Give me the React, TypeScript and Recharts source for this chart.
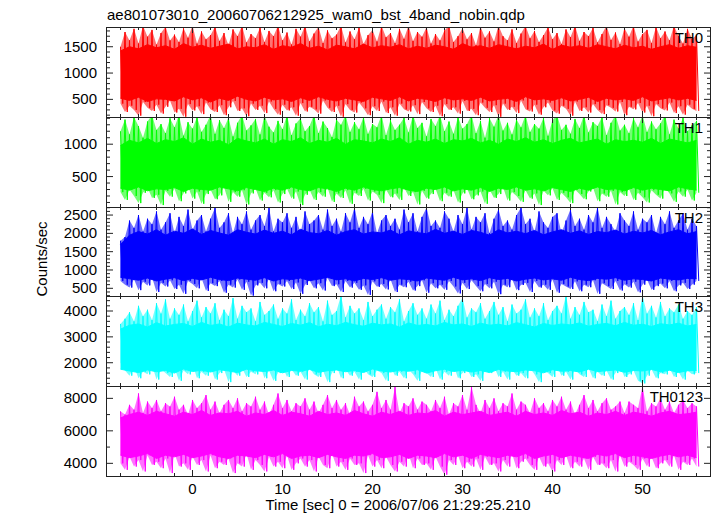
import React from "react";
import { ComposedChart, Area, Line, XAxis, YAxis } from "recharts";

// time bins (sec): first bin and bin width; spikes at 0.5 s, core envelope at 1 s
const TIME_START = -8;
const SPIKE_STEP = 0.5;
const CORE_STEP = 1;

// spike extremes per 0.5 s bin (max then min), counts/sec
const TH0_HI = [
  1500, 1780, 1620, 1840, 1560, 1900, 1690, 1820, 1540, 1760,
  1880, 1620, 1730, 1590, 1850, 1670, 1900, 1560, 1790, 1640,
  1720, 1880, 1610, 1760, 1530, 1830, 1700, 1900, 1580, 1740,
  1660, 1860, 1590, 1800, 1700, 1900, 1620, 1770, 1540, 1840,
  1690, 1900, 1600, 1750, 1880, 1570, 1810, 1660, 1730, 1900,
  1580, 1790, 1640, 1860, 1550, 1720, 1820, 1600, 1900, 1680,
  1760, 1570, 1840, 1650, 1900, 1610, 1780, 1690, 1870, 1560,
  1740, 1620, 1810, 1900, 1590, 1700, 1850, 1640, 1760, 1530,
  1880, 1670, 1790, 1600, 1900, 1700, 1620, 1830, 1570, 1750,
  1900, 1660, 1800, 1590, 1720, 1870, 1640, 1760, 1550, 1830,
  1680, 1900, 1610, 1780, 1700, 1860, 1580, 1740, 1900, 1630,
  1770, 1550, 1850, 1690, 1900, 1600, 1740, 1820, 1570, 1880,
  1660, 1790, 1620, 1900, 1700, 1560, 1840, 1650, 1720,
];
const TH0_LO = [
  420, 260, 380, 300, 190, 450, 340, 280, 400, 230,
  360, 480, 250, 320, 170, 410, 290, 370, 220, 440,
  310, 260, 390, 200, 350, 470, 280, 330, 180, 420,
  300, 380, 240, 460, 320, 210, 400, 290, 350, 190,
  430, 270, 360, 310, 230, 480, 340, 260, 380, 170,
  410, 300, 250, 440, 330, 200, 370, 280, 460, 240,
  350, 190, 420, 310, 270, 390, 220, 450, 330, 260,
  380, 180, 410, 300, 350, 230, 470, 280, 320, 200,
  440, 340, 260, 390, 170, 420, 300, 360, 240, 480,
  310, 270, 400, 210, 350, 440, 290, 230, 380, 320,
  190, 460, 280, 350, 250, 410, 300, 220, 390, 340,
  270, 450, 200, 360, 310, 430, 250, 380, 180, 410,
  330, 290, 440, 240, 370, 210, 400, 320, 280,
];
// solid core envelope per 1 s
const TH0_CORE_HI = [
  1420, 1500, 1460, 1540, 1480, 1520, 1450, 1560, 1490, 1530,
  1470, 1510, 1550, 1460, 1500, 1480, 1540, 1450, 1520, 1490,
  1560, 1470, 1510, 1440, 1530, 1500, 1460, 1550, 1480, 1520,
  1490, 1540, 1460, 1510, 1470, 1530, 1500, 1450, 1560, 1490,
  1520, 1470, 1540, 1500, 1460, 1510, 1480, 1550, 1450, 1530,
  1490, 1520, 1470, 1540, 1500, 1460, 1530, 1480, 1510, 1450,
  1500, 1540, 1470, 1520, 1490,
];
const TH0_CORE_LO = [
  520, 480, 540, 460, 510, 500, 470, 550, 490, 530,
  450, 520, 480, 560, 500, 470, 540, 490, 510, 460,
  530, 480, 550, 500, 470, 520, 490, 460, 540, 510,
  480, 550, 470, 520, 500, 460, 530, 490, 510, 480,
  540, 470, 500, 520, 460, 550, 490, 510, 480, 530,
  470, 500, 540, 460, 520, 490, 510, 480, 550, 470,
  500, 530, 490, 520, 480,
];

const TH1_HI = [
  1200, 1380, 1150, 1420, 1280, 1100, 1350, 1450, 1220, 1310,
  1170, 1400, 1260, 1450, 1130, 1340, 1240, 1420, 1190, 1300,
  1450, 1160, 1370, 1250, 1410, 1120, 1330, 1450, 1210, 1290,
  1390, 1150, 1440, 1270, 1180, 1360, 1230, 1450, 1140, 1320,
  1400, 1200, 1280, 1450, 1170, 1350, 1250, 1110, 1380, 1300,
  1450, 1190, 1340, 1230, 1420, 1160, 1310, 1260, 1450, 1140,
  1370, 1220, 1300, 1410, 1180, 1450, 1250, 1330, 1120, 1390,
  1280, 1450, 1200, 1350, 1160, 1420, 1240, 1310, 1450, 1170,
  1360, 1100, 1400, 1270, 1450, 1210, 1330, 1150, 1380, 1260,
  1450, 1190, 1310, 1240, 1410, 1130, 1370, 1450, 1220, 1300,
  1160, 1390, 1250, 1450, 1180, 1340, 1280, 1420, 1140, 1330,
  1450, 1210, 1300, 1170, 1400, 1260, 1450, 1190, 1350, 1230,
  1320, 1450, 1150, 1380, 1240, 1410, 1200, 1290, 1360,
];
const TH1_LO = [
  260, 140, 300, 200, 90, 250, 330, 170, 220, 60,
  280, 190, 310, 120, 240, 350, 160, 270, 80, 230,
  300, 150, 210, 340, 110, 260, 190, 290, 70, 240,
  320, 130, 250, 180, 290, 100, 230, 310, 160, 270,
  60, 220, 300, 140, 260, 190, 330, 110, 240, 170,
  290, 80, 250, 200, 310, 130, 270, 220, 90, 300,
  180, 240, 140, 330, 200, 260, 70, 280, 160, 230,
  310, 120, 250, 190, 290, 100, 240, 320, 150, 210,
  270, 80, 300, 170, 230, 340, 130, 260, 200, 110,
  290, 160, 240, 60, 280, 210, 320, 140, 250, 180,
  90, 300, 230, 150, 270, 330, 120, 240, 190, 280,
  70, 260, 200, 310, 140, 250, 180, 100, 290, 220,
  160, 330, 240, 110, 270, 190, 300, 130, 250,
];
const TH1_CORE_HI = [
  980, 1060, 1020, 1090, 1010, 1070, 1040, 1100, 1000, 1080,
  1030, 1060, 990, 1090, 1050, 1020, 1080, 1000, 1070, 1040,
  1100, 1010, 1060, 1030, 1090, 1000, 1070, 1050, 1020, 1080,
  1040, 1100, 1000, 1060, 1030, 1080, 1010, 1070, 1050, 1090,
  1020, 1060, 1000, 1080, 1040, 1100, 1030, 1070, 1010, 1060,
  1090, 1020, 1050, 1080, 1000, 1070, 1040, 1060, 1030, 1090,
  1010, 1080, 1050, 1020, 1060,
];
const TH1_CORE_LO = [
  320, 290, 340, 280, 310, 300, 330, 270, 320, 300,
  290, 340, 310, 280, 330, 300, 270, 320, 290, 340,
  300, 280, 330, 310, 270, 320, 290, 340, 300, 280,
  310, 330, 290, 270, 320, 300, 340, 280, 310, 290,
  330, 270, 320, 300, 340, 290, 310, 280, 330, 300,
  270, 320, 290, 340, 300, 310, 280, 330, 290, 320,
  300, 280, 340, 310, 290,
];

const TH2_HI = [
  1800, 1900, 2350, 2150, 2500, 2050, 2400, 2250, 2600, 2100,
  2300, 2550, 2000, 2450, 2200, 2650, 2100, 2350, 2500, 2050,
  2400, 2700, 2150, 2300, 2550, 2000, 2450, 2250, 2600, 2100,
  2350, 2500, 2200, 2700, 2050, 2400, 2300, 2550, 2150, 2450,
  2000, 2600, 2250, 2350, 2500, 2100, 2650, 2200, 2400, 2050,
  2550, 2300, 2700, 2150, 2450, 2250, 2600, 2000, 2350, 2500,
  2200, 2400, 2100, 2650, 2300, 2550, 2050, 2450, 2700, 2200,
  2350, 2150, 2600, 2400, 2050, 2500, 2250, 2700, 2100, 2450,
  2300, 2550, 2000, 2400, 2650, 2200, 2350, 2100, 2500, 2700,
  2250, 2400, 2050, 2600, 2300, 2150, 2450, 2550, 2000, 2350,
  2650, 2200, 2400, 2100, 2500, 2300, 2700, 2150, 2450, 2250,
  2050, 2550, 2350, 2200, 2600, 2100, 2400, 2300, 2500, 2000,
  2450, 2250, 2600, 2150, 2350, 2550, 2100, 2400, 2200,
];
const TH2_LO = [
  700, 600, 520, 750, 450, 680, 580, 800, 400, 650,
  550, 720, 480, 600, 350, 700, 620, 500, 780, 430,
  640, 560, 700, 380, 600, 520, 740, 460, 680, 300,
  580, 650, 500, 760, 420, 620, 550, 700, 480, 660,
  350, 590, 720, 500, 640, 440, 780, 560, 610, 400,
  700, 520, 650, 460, 580, 320, 690, 540, 620, 470,
  750, 400, 600, 530, 680, 440, 560, 720, 380, 640,
  500, 600, 460, 700, 550, 360, 650, 480, 720, 560,
  420, 620, 500, 680, 340, 600, 530, 760, 450, 590,
  650, 400, 700, 520, 600, 460, 740, 380, 620, 550,
  480, 690, 420, 600, 530, 720, 350, 640, 560, 480,
  700, 440, 610, 520, 680, 390, 600, 740, 460, 560,
  630, 500, 700, 420, 580, 650, 480, 600, 700,
];
const TH2_CORE_HI = [
  1700, 1950, 2050, 1980, 2100, 1950, 2060, 2000, 2120, 1970,
  2080, 2010, 1950, 2100, 2030, 1980, 2090, 2000, 2060, 1960,
  2110, 2020, 1990, 2080, 1950, 2050, 2100, 1980, 2040, 2010,
  2090, 1960, 2070, 2020, 1990, 2110, 2000, 2060, 1970, 2080,
  2030, 1950, 2100, 2010, 2060, 1990, 2080, 1960, 2040, 2100,
  2000, 2070, 1970, 2050, 2020, 2090, 1980, 2060, 2010, 2080,
  1960, 2040, 2100, 1990, 2050,
];
const TH2_CORE_LO = [
  800, 760, 720, 780, 700, 750, 790, 710, 770, 730,
  800, 740, 710, 780, 750, 720, 790, 700, 760, 740,
  780, 710, 750, 800, 730, 760, 700, 770, 740, 790,
  720, 760, 740, 700, 780, 750, 720, 800, 730, 760,
  710, 790, 740, 770, 700, 750, 780, 730, 760, 720,
  800, 740, 710, 770, 750, 790, 720, 760, 740, 700,
  780, 750, 730, 770, 760,
];

const TH3_HI = [
  3500, 3700, 3950, 3600, 4200, 3800, 4050, 3650, 4300, 3900,
  4450, 3700, 4100, 3850, 4250, 3600, 4000, 4400, 3750, 4150,
  3900, 4300, 3650, 4050, 3800, 4500, 3700, 4200, 3950, 4100,
  3600, 4350, 3850, 4000, 4250, 3700, 4100, 3900, 4450, 3650,
  4050, 3800, 4300, 3950, 4150, 3600, 4400, 3850, 4000, 4600,
  3750, 4200, 3900, 4100, 3650, 4350, 3800, 4050, 4250, 3700,
  4150, 3950, 4450, 3600, 4000, 4300, 3850, 4100, 3700, 4250,
  3900, 4400, 3650, 4050, 3800, 4200, 4500, 3750, 4100, 3950,
  4300, 3700, 4000, 4350, 3850, 4150, 3600, 4250, 3900, 4050,
  4450, 3750, 4100, 3800, 4300, 3650, 4000, 4200, 3900, 4600,
  3700, 4150, 3850, 4350, 3950, 4050, 3600, 4250, 3800, 4400,
  3700, 4000, 4150, 3850, 4300, 3650, 4600, 3900, 4200, 3750,
  4350, 3800, 4100, 3950, 4250, 3700, 4000, 3850, 4150,
];
const TH3_LO = [
  2000, 1700, 1500, 1850, 1400, 1650, 1550, 1900, 1350, 1750,
  1600, 1450, 1800, 1300, 1700, 1550, 1950, 1400, 1650, 1500,
  1850, 1350, 1600, 1750, 1250, 1700, 1500, 1800, 1450, 1650,
  1550, 1900, 1400, 1700, 1300, 1600, 1850, 1450, 1750, 1500,
  1650, 1350, 1800, 1550, 1450, 1700, 1250, 1600, 1900, 1400,
  1750, 1500, 1650, 1350, 1800, 1550, 1450, 1700, 1600, 1300,
  1850, 1500, 1650, 1400, 1750, 1550, 1300, 1700, 1600, 1450,
  1800, 1350, 1650, 1500, 1900, 1400, 1600, 1750, 1450, 1550,
  1300, 1700, 1600, 1850, 1450, 1650, 1350, 1750, 1500, 1600,
  1400, 1800, 1550, 1250, 1700, 1600, 1450, 1850, 1500, 1650,
  1350, 1750, 1550, 1450, 1800, 1400, 1650, 1500, 1700, 1350,
  1600, 1850, 1450, 1550, 1700, 1300, 1200, 1500, 1750, 1400,
  1600, 1550, 1800, 1450, 1650, 1350, 1700, 1550, 1600,
];
const TH3_CORE_HI = [
  3300, 3450, 3500, 3380, 3550, 3420, 3480, 3520, 3400, 3560,
  3440, 3500, 3380, 3530, 3460, 3420, 3560, 3480, 3400, 3520,
  3450, 3550, 3390, 3490, 3430, 3560, 3470, 3410, 3530, 3460,
  3500, 3380, 3540, 3440, 3480, 3420, 3560, 3460, 3500, 3400,
  3530, 3450, 3490, 3420, 3550, 3470, 3380, 3520, 3440, 3500,
  3460, 3540, 3410, 3480, 3520, 3430, 3560, 3450, 3490, 3400,
  3510, 3460, 3530, 3420, 3480,
];
const TH3_CORE_LO = [
  1750, 1680, 1620, 1720, 1650, 1700, 1600, 1760, 1660, 1710,
  1640, 1730, 1680, 1620, 1750, 1690, 1660, 1720, 1610, 1700,
  1670, 1740, 1630, 1690, 1720, 1650, 1700, 1620, 1760, 1680,
  1640, 1710, 1670, 1730, 1600, 1690, 1750, 1660, 1710, 1640,
  1700, 1620, 1740, 1680, 1650, 1720, 1690, 1610, 1730, 1670,
  1700, 1640, 1750, 1660, 1690, 1720, 1630, 1700, 1680, 1740,
  1650, 1710, 1620, 1690, 1700,
];

const TH0123_HI = [
  7200, 7000, 7600, 7300, 8300, 7100, 7800, 7400, 7900, 7200,
  7700, 7500, 8100, 7300, 7600, 7000, 7900, 7400, 7700, 8200,
  7300, 7800, 7100, 7600, 7900, 7400, 8000, 7200, 7700, 7500,
  8100, 7300, 7800, 7000, 7600, 8300, 7400, 7900, 7200, 7700,
  7500, 8000, 7300, 7800, 7100, 7600, 8200, 7400, 7900, 7300,
  7700, 7000, 8100, 7500, 7800, 7200, 7600, 8400, 7400, 7900,
  7300, 8700, 7100, 7700, 7500, 8000, 7300, 7800, 7600, 7200,
  7900, 7400, 8100, 7000, 7700, 7500, 8200, 7300, 8700, 7600,
  7100, 7900, 7400, 8000, 7200, 7700, 7500, 8300, 7300, 7800,
  7600, 7100, 8000, 7400, 7700, 7200, 7900, 7500, 8100, 7300,
  7800, 7000, 7600, 8200, 7400, 7900, 7200, 7700, 8000, 7300,
  7500, 7800, 7100, 7800, 7600, 7400, 8750, 7200, 7700, 7500,
  8000, 7300, 7800, 7100, 7600, 7900, 7400, 7700, 7500,
];
const TH0123_LO = [
  4000, 3600, 4400, 3800, 4200, 3500, 4500, 3900, 4100, 3700,
  4300, 3400, 4600, 3800, 4000, 3600, 4400, 3900, 4200, 3500,
  4500, 3700, 4100, 3900, 4300, 3400, 4000, 3800, 4600, 3600,
  4200, 3900, 3500, 4400, 3800, 4100, 3700, 4500, 3600, 4000,
  4300, 3800, 4200, 3500, 4400, 3900, 3700, 4600, 3800, 4100,
  3600, 4300, 3900, 4000, 3400, 4500, 3800, 4200, 3700, 4400,
  3900, 3500, 4100, 3800, 4600, 3700, 4300, 3900, 4000, 3600,
  4400, 3800, 3300, 4200, 3900, 4500, 3700, 4100, 3800, 4300,
  3600, 4400, 3900, 4000, 3500, 4200, 3800, 4600, 3700, 4100,
  4300, 3900, 3600, 4400, 3800, 4000, 3500, 4200, 3900, 4500,
  3700, 4100, 3800, 4300, 3600, 4400, 3900, 4000, 3700, 4200,
  3500, 4500, 3800, 4100, 3900, 3600, 4300, 3800, 4400, 3700,
  4000, 4200, 3800, 4500, 3600, 4100, 3900, 4300, 3800,
];
const TH0123_CORE_HI = [
  6800, 7000, 7150, 6950, 7200, 7050, 6900, 7150, 7000, 7250,
  6950, 7100, 7050, 7200, 6900, 7100, 7000, 7250, 6950, 7150,
  7050, 6900, 7200, 7000, 7100, 6950, 7250, 7050, 6900, 7150,
  7000, 7200, 6950, 7100, 7050, 7250, 6900, 7150, 7000, 7100,
  7200, 6950, 7050, 7150, 6900, 7200, 7000, 7100, 6950, 7250,
  7050, 7150, 6900, 7100, 7000, 7200, 6950, 7150, 7050, 6900,
  7100, 7200, 7000, 7050, 7150,
];
const TH0123_CORE_LO = [
  4500, 4350, 4450, 4600, 4300, 4500, 4400, 4550, 4350, 4450,
  4600, 4400, 4300, 4500, 4450, 4350, 4550, 4400, 4600, 4300,
  4450, 4500, 4350, 4550, 4400, 4300, 4500, 4450, 4600, 4350,
  4400, 4550, 4300, 4500, 4450, 4350, 4600, 4400, 4500, 4300,
  4550, 4450, 4350, 4500, 4400, 4600, 4300, 4450, 4550, 4350,
  4500, 4400, 4300, 4550, 4450, 4600, 4350, 4500, 4400, 4300,
  4450, 4550, 4400, 4500, 4350,
];

const FONT = "'Liberation Sans', Arial, Helvetica, sans-serif";
const FRAME = "#222";
const X_DOMAIN: [number, number] = [-9.5, 57.5];
const PLOT_LEFT = 107;
const PLOT_RIGHT = 710;
const PLOT_W = PLOT_RIGHT - PLOT_LEFT;

function stepTicks(lo: number, hi: number, step: number) {
  const out: number[] = [];
  for (let v = Math.ceil(lo / step) * step; v <= hi; v += step) out.push(v);
  return out;
}

const X_TICKS = stepTicks(-9, 57, 2);

const PANELS = [
  { label: "TH0", color: "#ff0000", hi: TH0_HI, lo: TH0_LO, coreHi: TH0_CORE_HI, coreLo: TH0_CORE_LO, domain: [165, 1875], major: 500, minor: 100, top: 27, h: 90 },
  { label: "TH1", color: "#00ff00", hi: TH1_HI, lo: TH1_LO, coreHi: TH1_CORE_HI, coreLo: TH1_CORE_LO, domain: [30, 1420], major: 500, minor: 100, top: 117, h: 90 },
  { label: "TH2", color: "#0000ff", hi: TH2_HI, lo: TH2_LO, coreHi: TH2_CORE_HI, coreLo: TH2_CORE_LO, domain: [290, 2720], major: 500, minor: 100, top: 207, h: 89 },
  { label: "TH3", color: "#00ffff", hi: TH3_HI, lo: TH3_LO, coreHi: TH3_CORE_HI, coreLo: TH3_CORE_LO, domain: [1100, 4580], major: 1000, minor: 200, top: 296, h: 90 },
  { label: "TH0123", color: "#ff00ff", hi: TH0123_HI, lo: TH0123_LO, coreHi: TH0123_CORE_HI, coreLo: TH0123_CORE_LO, domain: [3220, 8760], major: 2000, minor: 1000, top: 386, h: 90 },
];

type PanelCfg = (typeof PANELS)[number];

// rows: max at the bin time, min half a bin later, core envelope every second
function buildRows(p: PanelCfg) {
  const rows: any[] = [];
  p.hi.forEach((h, i) => {
    const t = TIME_START + i * SPIKE_STEP;
    const k = (t - TIME_START) / CORE_STEP;
    const row: any = { t, spike: h, fringe: [p.lo[i], h] };
    if (Number.isInteger(k) && k < p.coreHi.length) row.core = [p.coreLo[k], p.coreHi[k]];
    rows.push(row);
    rows.push({ t: t + SPIKE_STEP / 2, spike: p.lo[i] });
  });
  return rows;
}

function XTick(props: any) {
  const { x, y, payload, plotH, showLabel } = props;
  const v = payload.value;
  const major = v % 10 === 0;
  const len = major ? 6 : 3;
  return (
    <g>
      <line x1={x} x2={x} y1={y} y2={y - len} stroke={FRAME} strokeWidth={1} />
      <line x1={x} x2={x} y1={y - plotH} y2={y - plotH + len} stroke={FRAME} strokeWidth={1} />
      {showLabel && major && (
        <text x={x} y={y + 18} textAnchor="middle" fontSize={15} fontFamily={FONT} fill="#000">
          {v}
        </text>
      )}
    </g>
  );
}

function YTick(props: any) {
  const { x, y, payload, major } = props;
  const v = payload.value;
  const isMajor = v % major === 0;
  const len = isMajor ? 6 : 3;
  return (
    <g>
      <line x1={x} x2={x + len} y1={y} y2={y} stroke={FRAME} strokeWidth={1} />
      <line x1={x + PLOT_W} x2={x + PLOT_W - len} y1={y} y2={y} stroke={FRAME} strokeWidth={1} />
      {isMajor && (
        <text x={x - 10} y={y + 5} textAnchor="end" fontSize={15} fontFamily={FONT} fill="#000">
          {v}
        </text>
      )}
    </g>
  );
}

function Panel({ p, last }: { p: PanelCfg; last: boolean }) {
  const rows = buildRows(p);
  const yTicks = stepTicks(p.domain[0], p.domain[1], p.minor);
  return (
    <div style={{ position: "absolute", left: 0, top: p.top }}>
      <ComposedChart
        width={717}
        height={p.h + 40}
        data={rows}
        margin={{ top: 0, right: 717 - PLOT_RIGHT, bottom: 0, left: 0 }}
      >
        <XAxis
          dataKey="t"
          type="number"
          domain={X_DOMAIN}
          allowDataOverflow
          ticks={X_TICKS}
          interval={0}
          height={40}
          tickSize={0}
          tickMargin={0}
          axisLine={false}
          tickLine={false}
          tick={(props: any) => <XTick {...props} plotH={p.h} showLabel={last} />}
        />
        <YAxis
          type="number"
          domain={p.domain}
          allowDataOverflow
          ticks={yTicks}
          interval={0}
          width={PLOT_LEFT}
          tickSize={0}
          tickMargin={0}
          axisLine={false}
          tickLine={false}
          tick={(props: any) => <YTick {...props} major={p.major} />}
        />
        <Area
          dataKey="fringe"
          type="linear"
          stroke="none"
          fill={p.color}
          fillOpacity={0.55}
          connectNulls
          dot={false}
          activeDot={false}
          isAnimationActive={false}
        />
        <Area
          dataKey="core"
          type="linear"
          stroke={p.color}
          strokeWidth={1}
          fill={p.color}
          fillOpacity={1}
          connectNulls
          dot={false}
          activeDot={false}
          isAnimationActive={false}
        />
        <Line
          dataKey="spike"
          type="linear"
          stroke={p.color}
          strokeWidth={1}
          dot={false}
          activeDot={false}
          isAnimationActive={false}
        />
      </ComposedChart>
    </div>
  );
}

export default function App() {
  return (
    <div style={{ position: "absolute", left: 0, top: 0, width: 717, height: 516, background: "#fff", fontFamily: FONT }}>
      {PANELS.map((p, i) => (
        <Panel key={p.label} p={p} last={i === PANELS.length - 1} />
      ))}
      {PANELS.map((p) => (
        <div
          key={p.label + "-frame"}
          style={{
            position: "absolute",
            left: PLOT_LEFT - 1,
            top: p.top,
            width: PLOT_W + 2,
            height: p.h + 1,
            border: `1px solid ${FRAME}`,
            boxSizing: "border-box",
            pointerEvents: "none",
          }}
        />
      ))}
      <svg width={717} height={516} style={{ position: "absolute", left: 0, top: 0, pointerEvents: "none" }}>
        <text x={107} y={20} fontSize={15} fontFamily={FONT} fill="#000">
          ae801073010_20060706212925_wam0_bst_4band_nobin.qdp
        </text>
        {PANELS.map((p) => (
          <text key={p.label} x={703} y={p.top + 16} textAnchor="end" fontSize={15} fontFamily={FONT} fill="#000">
            {p.label}
          </text>
        ))}
        <text x={398} y={510} textAnchor="middle" fontSize={15} fontFamily={FONT} fill="#000">
          Time [sec] 0 = 2006/07/06 21:29:25.210
        </text>
        <text x={47} y={259} transform="rotate(-90 47 259)" textAnchor="middle" fontSize={15} fontFamily={FONT} fill="#000">
          Counts/sec
        </text>
      </svg>
    </div>
  );
}
